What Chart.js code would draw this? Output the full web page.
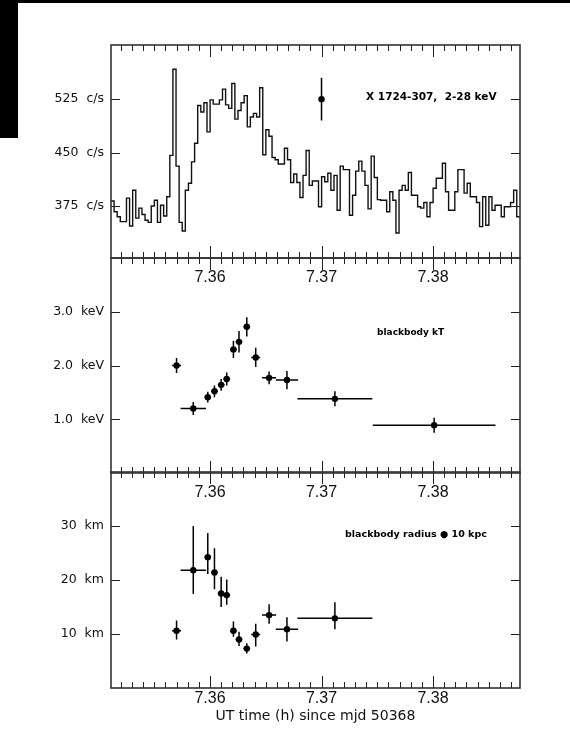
<!DOCTYPE html>
<html>
<head>
<meta charset="utf-8">
<title>X 1724-307 burst</title>
<script src="https://cdn.jsdelivr.net/npm/chart.js@4.4.1/dist/chart.umd.min.js"></script>
<style>
  html, body { margin: 0; padding: 0; background: #fff; }
  #wrap { position: relative; width: 570px; height: 747px; overflow: hidden; }
  #wrap canvas { position: absolute; left: 0; top: 0; }
  .blk { position: absolute; background: #000; }
  .tlab { position: absolute; width: 60px; text-align: center; font: 16px "Liberation Sans", sans-serif;
          line-height: 18px; color: #111; z-index: 5; }
</style>
</head>
<body>
<div id="wrap">
  <div class="blk" style="left:0;top:0;width:570px;height:3px"></div>
  <div class="blk" style="left:0;top:0;width:18px;height:138px"></div>
  <canvas id="rate" width="570" height="747"></canvas>
  <canvas id="temp" width="570" height="747"></canvas>
  <canvas id="radius" width="570" height="747"></canvas>
</div>
<script>
"use strict";

// ---- data ----
const binStart = 7.35112;          // UT hours, left edge of first 1 s bin
const binWidth = 1 / 3600;         // 1 s bins
const rateCounts = [
    382, 367, 360, 353, 353, 386, 347, 397, 358, 372, 363, 355, 352, 375, 383, 352, 376, 361, 388, 446,
    567, 431, 352, 340, 397, 407, 437, 463, 516, 507, 520, 479, 524, 518, 518, 524, 539, 517, 512, 547,
    497, 509, 520, 530, 486, 500, 505, 500, 541, 447, 482, 473, 443, 440, 434, 434, 456, 440, 408, 420,
    408, 387, 418, 453, 404, 410, 410, 374, 416, 409, 421, 397, 418, 369, 431, 426, 426, 362, 390, 424,
    438, 424, 404, 371, 445, 415, 384, 383, 383, 367, 395, 383, 337, 397, 404, 397, 422, 390, 390, 374,
    372, 380, 360, 380, 400, 414, 414, 435, 395, 369, 369, 395, 426, 426, 393, 407, 388, 388, 380, 346,
    388, 348, 388, 369, 376, 376, 360, 374, 374, 380, 397, 360
];
const rateBarTime = [7.37];
const rateBarValue = [525];
const rateBarErr = [30];

const specTime = [7.3570, 7.3585, 7.3598, 7.3604, 7.3610, 7.3615, 7.3621, 7.3626, 7.3633, 7.3641, 7.3653, 7.3669, 7.3712, 7.3801];
const specTimeErr = [0.0004, 0.00114, 0.0003, 0.0003, 0.0003, 0.0003, 0.0003, 0.0003, 0.0003, 0.0004, 0.00063, 0.0010, 0.00336, 0.0055];
const ktValue = [2.00, 1.20, 1.41, 1.52, 1.64, 1.75, 2.30, 2.44, 2.72, 2.15, 1.77, 1.73, 1.38, 0.89];
const ktErr = [0.14, 0.12, 0.10, 0.11, 0.11, 0.12, 0.16, 0.20, 0.18, 0.18, 0.12, 0.17, 0.14, 0.14];
const radValue = [10.6, 21.8, 24.2, 21.4, 17.5, 17.2, 10.6, 9.0, 7.3, 9.9, 13.5, 10.9, 12.9];
const radLow = [9.0, 17.4, 21.1, 18.3, 15.0, 15.4, 9.5, 7.8, 6.4, 7.7, 11.9, 8.6, 10.9];
const radHigh = [12.5, 30.0, 28.7, 25.9, 20.6, 20.1, 12.3, 10.4, 8.3, 11.9, 15.5, 13.1, 15.9];

const xMajor = [7.36, 7.37, 7.38];
const rateTicks = [375, 450, 525];
const rateTickText = ['375  c/s', '450  c/s', '525  c/s'];
const ktTicks = [1, 2, 3];
const ktTickText = ['1.0  keV', '2.0  keV', '3.0  keV'];
const radTicks = [10, 20, 30];
const radTickText = ['10  km', '20  km', '30  km'];

// ---- axes ----
const xMin = 7.351121, xMax = 7.387801;
let xMinor = [];
for (let i = 7352; i <= 7387; i++) xMinor.push(i / 1000);

function isMajor(v) {
    return xMajor.some(m => Math.abs(m - v) < 1e-7);
}

function xScale(h, pad, title) {
    return {
        type: 'linear', min: xMin, max: xMax,
        grid: { display: false, drawTicks: false },
        border: { display: false },
        afterBuildTicks: s => { s.ticks = xMinor.map(v => ({ value: v })); },
        afterFit: s => { s.height = h; },
        ticks: {
            display: !title,
            autoSkip: false, maxRotation: 0, minRotation: 0, padding: pad, color: '#111',
            font: { family: 'Liberation Sans', size: 16 },
            callback: v => isMajor(v) ? v.toFixed(2) : ''
        },
        title: title ? {
            display: true, text: title, color: '#111',
            font: { family: 'DejaVu Sans', size: 14 },
            padding: { top: 0, bottom: 22 }
        } : { display: false }
    };
}

function yScale(min, max, vals, text) {
    return {
        min: min, max: max,
        grid: { display: false, drawTicks: false },
        border: { display: false },
        afterBuildTicks: s => { s.ticks = vals.map(v => ({ value: v })); },
        afterFit: s => { s.width = 111; },
        ticks: {
            padding: 7, color: '#111',
            font: { family: 'DejaVu Sans', size: 12.5 },
            callback: v => text[vals.indexOf(v)]
        }
    };
}

// ---- plugins: frame with inward ticks, error bars, note text ----
const framePlugin = {
    id: 'frame',
    afterDraw(chart) {
        const { ctx, chartArea: a, scales } = chart;
        ctx.save();
        ctx.strokeStyle = '#222';
        ctx.lineWidth = 1;
        ctx.beginPath();
        scales.x.ticks.forEach(t => {
            const px = Math.round(scales.x.getPixelForValue(t.value)) + 0.5;
            const len = isMajor(t.value) ? 12 : 6;
            ctx.moveTo(px, a.top); ctx.lineTo(px, a.top + len);
            ctx.moveTo(px, a.bottom); ctx.lineTo(px, a.bottom - len);
        });
        scales.y.ticks.forEach(t => {
            const py = Math.round(scales.y.getPixelForValue(t.value)) + 0.5;
            ctx.moveTo(a.left, py); ctx.lineTo(a.left + 9, py);
            ctx.moveTo(a.right, py); ctx.lineTo(a.right - 9, py);
        });
        ctx.stroke();
        ctx.lineWidth = 1.6;
        ctx.strokeStyle = '#333';
        ctx.strokeRect(a.left, a.top, a.width, a.height);
        ctx.restore();
    }
};

function errorBarPlugin(bars) {
    return {
        id: 'errorBars',
        beforeDatasetsDraw(chart) {
            const { ctx, scales: { x, y } } = chart;
            ctx.save();
            ctx.strokeStyle = '#000';
            ctx.lineWidth = 1.5;
            ctx.beginPath();
            bars.forEach(b => {
                const px = x.getPixelForValue(b.x), py = y.getPixelForValue(b.y);
                ctx.moveTo(x.getPixelForValue(b.x - b.xe), py);
                ctx.lineTo(x.getPixelForValue(b.x + b.xe), py);
                ctx.moveTo(px, y.getPixelForValue(b.lo));
                ctx.lineTo(px, y.getPixelForValue(b.hi));
            });
            ctx.stroke();
            ctx.restore();
        }
    };
}

function notePlugin(note) {
    return {
        id: 'note',
        afterDraw(chart) {
            const { ctx, scales: { x, y } } = chart;
            ctx.save();
            ctx.font = note.font;
            ctx.fillStyle = '#000';
            ctx.textAlign = 'left';
            ctx.textBaseline = 'middle';
            ctx.fillText(note.text, x.getPixelForValue(note.x), y.getPixelForValue(note.y));
            ctx.restore();
        }
    };
}

function points(xs, ys) {
    return {
        type: 'scatter',
        data: xs.map((t, i) => ({ x: t, y: ys[i] })),
        pointRadius: 3.2, pointStyle: 'circle',
        backgroundColor: '#000', borderColor: '#000', borderWidth: 0
    };
}

function panel(id, cfg) {
    return new Chart(document.getElementById(id), {
        type: 'scatter',
        data: { datasets: cfg.datasets },
        options: {
            responsive: false, animation: false, events: [],
            layout: { padding: { left: 0, right: 50, top: cfg.top, bottom: cfg.bottom } },
            plugins: { legend: { display: false }, tooltip: { enabled: false } },
            scales: { x: cfg.x, y: cfg.y }
        },
        plugins: [framePlugin, errorBarPlugin(cfg.bars), notePlugin(cfg.note)]
    });
}

// ---- top panel: count rate histogram ----
let histPoints = rateCounts.map((c, i) => ({ x: binStart + i * binWidth, y: c }));
histPoints.push({ x: binStart + rateCounts.length * binWidth, y: rateCounts[rateCounts.length - 1] });

panel('rate', {
    top: 45, bottom: 747 - 258 - 40,
    x: xScale(40, 10),
    y: yScale(302, 601, rateTicks, rateTickText),
    datasets: [
        {
            type: 'line', data: histPoints, stepped: true, fill: false,
            borderColor: '#111', borderWidth: 1.4, pointRadius: 0
        },
        points(rateBarTime, rateBarValue)
    ],
    bars: rateBarTime.map((t, i) => ({ x: t, y: rateBarValue[i], xe: 0, lo: rateBarValue[i] - rateBarErr[i], hi: rateBarValue[i] + rateBarErr[i] })),
    note: { text: 'X 1724-307,  2-28 keV', x: 7.3740, y: 527, font: 'bold 10.5px "DejaVu Sans"' }
});

// ---- middle panel: blackbody kT ----
panel('temp', {
    top: 258, bottom: 747 - 473 - 40,
    x: xScale(40, 10),
    y: yScale(0, 4, ktTicks, ktTickText),
    datasets: [points(specTime, ktValue)],
    bars: specTime.map((t, i) => ({ x: t, y: ktValue[i], xe: specTimeErr[i], lo: ktValue[i] - ktErr[i], hi: ktValue[i] + ktErr[i] })),
    note: { text: 'blackbody kT', x: 7.37498, y: 2.61, font: 'bold 9px "DejaVu Sans"' }
});

// ---- bottom panel: blackbody radius ----
const radTime = specTime.slice(0, radValue.length);
const radChart = panel('radius', {
    top: 472, bottom: 0,
    x: xScale(59, 1, 'UT time (h) since mjd 50368'),
    y: yScale(0, 40, radTicks, radTickText),
    datasets: [points(radTime, radValue)],
    bars: radTime.map((t, i) => ({ x: t, y: radValue[i], xe: specTimeErr[i], lo: radLow[i], hi: radHigh[i] })),
    note: { text: 'blackbody radius \u25CF 10 kpc', x: 7.37211, y: 28.4, font: 'bold 9.5px "DejaVu Sans"' }
});

// time labels under the last panel, placed from the chart's x scale
const wrap = document.getElementById('wrap');
xMajor.forEach(v => {
    const lab = document.createElement('div');
    lab.className = 'tlab';
    lab.textContent = v.toFixed(2);
    lab.style.left = (radChart.scales.x.getPixelForValue(v) - 30) + 'px';
    lab.style.top = (radChart.chartArea.bottom + 1) + 'px';
    wrap.appendChild(lab);
});
</script>
</body>
</html>
